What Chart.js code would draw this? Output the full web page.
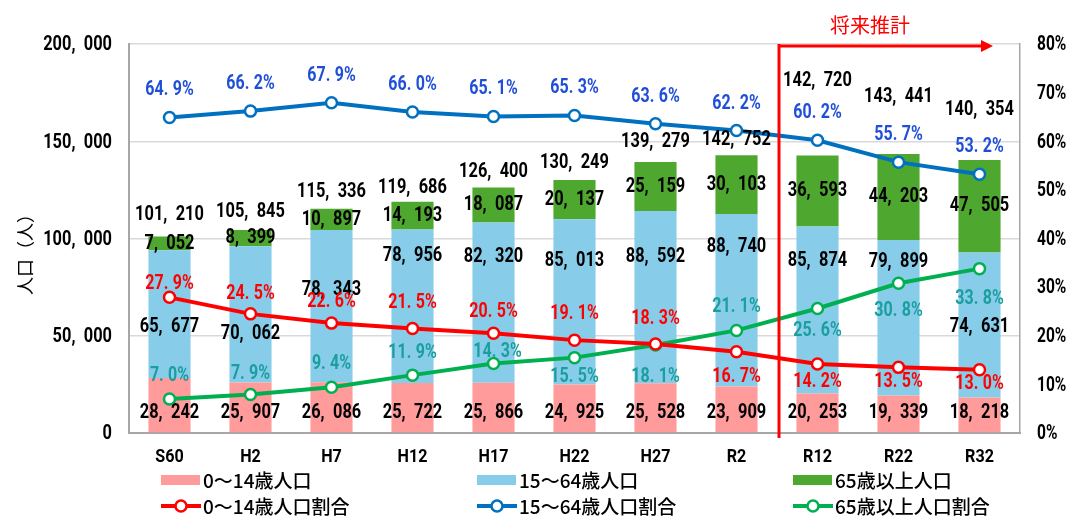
<!DOCTYPE html>
<html>
<head>
<meta charset="utf-8">
<script src="https://cdn.jsdelivr.net/npm/chart.js@4.4.1/dist/chart.umd.min.js"></script>
<style>
  html,body{margin:0;padding:0;background:#fff;}
  #caja{width:1070px;height:519px;}
</style>
</head>
<body>
<div id="caja"><canvas id="grafico"></canvas></div>
<script>
// datos
const anios    = ['S60','H2','H7','H12','H17','H22','H27','R2','R12','R22','R32'];
const pob0014  = [28242,25907,26086,25722,25866,24925,25528,23909,20253,19339,18218];
const pob1564  = [65677,70062,78343,78956,82320,85013,88592,88740,85874,79899,74631];
const pob65    = [7052,8399,10897,14193,18087,20137,25159,30103,36593,44203,47505];
const total    = [101210,105845,115336,119686,126400,130249,139279,142752,142720,143441,140354];
const tasa0014 = [27.9,24.5,22.6,21.5,20.5,19.1,18.3,16.7,14.2,13.5,13.0];
const tasa1564 = [64.9,66.2,67.9,66.0,65.1,65.3,63.6,62.2,60.2,55.7,53.2];
const tasa65   = [7.0,7.9,9.4,11.9,14.3,15.5,18.1,21.1,25.6,30.8,33.8];
const nombres  = ['0～14歳人口','15～64歳人口','65歳以上人口','0～14歳人口割合','15～64歳人口割合','65歳以上人口割合'];
const inicioFuturo = 'R12';
const textoFuturo  = '将来推計';
const tituloY      = '人口（人）';

// desplazamientos de etiquetas (px)
const dyTotal = [-21,-15,-17,-12,-15,-17,-20,-16,-75,-57,-50];
const dyMedio = [76,87,60,26,34,42,46,33,34,22,74];
const dyRojo  = [-13,-20,-21,-25,-21,-26,-25,25,18,15,14];
const dyVerde = [-23,-21,-23,-22,-11,19,32,-23,22,28,30];
const dxVerde = [0,0,0,0,4,0,0,0,0,0,0];

const colRosa='#FF9B9B', colCeleste='#87CDEA', colVerdeB='#4EA72E';
const colRojo='#FF0000', colAzul='#0070C0', colVerde='#00B050';
const fuenteNum = "Roboto,'Noto Sans',sans-serif";
const fuenteJP  = "'Noto Sans CJK JP',sans-serif";

const fmt = n => n.toLocaleString('en-US');

// texto estrecho, con coma y punto anchos como en el original
function textoNum(ctx, s, x, y, size, k, align){
  ctx.font = 'bold '+size+'px '+fuenteNum;
  ctx.textAlign='left';
  ctx.textBaseline='middle';
  const extra = {',':0.4*size, '.':0.22*size};
  const chars = [...s];
  const ws = chars.map(c => ctx.measureText(c).width*k + (extra[c]||0));
  const w = ws.reduce((a,b)=>a+b,0);
  let cx = align==='right' ? x-w : align==='left' ? x : x-w/2;
  chars.forEach((c,i)=>{
    ctx.save(); ctx.translate(cx,y); ctx.scale(k,1); ctx.fillText(c,0,0); ctx.restore();
    cx += ws[i];
  });
}

const etiquetas = {
  id:'etiquetas',
  afterDatasetsDraw(chart){
    const {ctx} = chart;
    const x = chart.scales.x, y = chart.scales.y, y1 = chart.scales.y1;
    ctx.save();
    anios.forEach((a,i)=>{
      const cx = x.getPixelForValue(i);
      const t1 = y.getPixelForValue(pob0014[i]+pob1564[i]);
      const t2 = y.getPixelForValue(pob0014[i]+pob1564[i]+pob65[i]);
      ctx.fillStyle='#000';
      textoNum(ctx, fmt(pob0014[i]), cx, y.getPixelForValue(0)-20, 21, 0.78);
      textoNum(ctx, fmt(pob1564[i]), cx, t1+dyMedio[i], 21, 0.78);
      textoNum(ctx, fmt(pob65[i]), cx, (t1+t2)/2, 21, 0.78);
      textoNum(ctx, fmt(total[i]), cx, y.getPixelForValue(total[i])+dyTotal[i], 21, 0.78);

      ctx.fillStyle='#1F4ED8';
      textoNum(ctx, tasa1564[i].toFixed(1)+'%', cx, y1.getPixelForValue(tasa1564[i])-27, 20, 0.8);
      ctx.fillStyle=colRojo;
      textoNum(ctx, tasa0014[i].toFixed(1)+'%', cx, y1.getPixelForValue(tasa0014[i])+dyRojo[i], 20, 0.8);
      ctx.fillStyle='#1A9E9E';
      textoNum(ctx, tasa65[i].toFixed(1)+'%', cx+dxVerde[i], y1.getPixelForValue(tasa65[i])+dyVerde[i], 20, 0.8);
    });
    ctx.restore();
  },
  afterDraw(chart){
    const {ctx, chartArea} = chart;
    const x = chart.scales.x, y = chart.scales.y, y1 = chart.scales.y1;
    ctx.save();
    // rotulos de los ejes
    ctx.fillStyle='#000';
    y.ticks.forEach(t => textoNum(ctx, fmt(t.value), chartArea.left-17, y.getPixelForValue(t.value)+1, 21, 0.78, 'right'));
    y1.ticks.forEach(t => textoNum(ctx, t.value+'%', chartArea.right+17, y1.getPixelForValue(t.value)+1, 21, 0.74, 'left'));
    anios.forEach((a,i) => textoNum(ctx, a, x.getPixelForValue(i), chartArea.bottom+24, 19, 0.85));

    // linea de proyeccion
    const k = anios.indexOf(inicioFuturo);
    const lx = (x.getPixelForValue(k-1)+x.getPixelForValue(k))/2 + 2;
    ctx.strokeStyle=colRojo; ctx.fillStyle=colRojo; ctx.lineWidth=3;
    ctx.beginPath();
    ctx.moveTo(lx, chartArea.top); ctx.lineTo(lx, chartArea.bottom+5);
    ctx.moveTo(lx, chartArea.top+2); ctx.lineTo(chartArea.right-38, chartArea.top+2);
    ctx.stroke();
    const ax = chartArea.right-27, ay = chartArea.top+2;
    ctx.beginPath();
    ctx.moveTo(ax, ay); ctx.lineTo(ax-12, ay-6); ctx.lineTo(ax-12, ay+6); ctx.closePath();
    ctx.fill();
    ctx.font='20px '+fuenteJP; ctx.textAlign='center'; ctx.textBaseline='middle';
    ctx.fillText(textoFuturo, lx+91, 25);

    // titulo eje Y
    ctx.fillStyle='#000';
    ctx.font='18px '+fuenteJP;
    ctx.translate(25, 250); ctx.rotate(-Math.PI/2);
    ctx.fillText(tituloY, 0, 0);
    ctx.restore();

    // leyenda
    ctx.save();
    const cols=[161,477,793], filas=[480,506];
    ctx.font='500 19px '+fuenteJP; ctx.textBaseline='middle'; ctx.textAlign='left';
    chart.data.datasets.forEach((ds,i)=>{
      const c = cols[i%3], f = filas[Math.floor(i/3)];
      if(ds.type==='line'){
        ctx.strokeStyle=ds.borderColor; ctx.lineWidth=4;
        ctx.beginPath(); ctx.moveTo(c,f); ctx.lineTo(c+40,f); ctx.stroke();
        ctx.beginPath(); ctx.arc(c+20,f,5.5,0,Math.PI*2);
        ctx.fillStyle='#fff'; ctx.fill(); ctx.lineWidth=2.5; ctx.stroke();
      }else{
        ctx.fillStyle=ds.backgroundColor;
        ctx.fillRect(c,f-5,39,10);
      }
      ctx.fillStyle='#000';
      ctx.fillText(ds.label, c+42, f+1);
    });
    ctx.restore();
  }
};

const linea = (label,data,color)=>({
  type:'line', label, data, yAxisID:'y1', order:0,
  borderColor:color, borderWidth:4, backgroundColor:'#fff',
  pointRadius:5.5, pointBorderWidth:2.5, pointBackgroundColor:'#fff', pointBorderColor:color,
  tension:0, fill:false
});
const barra = (label,data,color)=>({
  type:'bar', label, data, yAxisID:'y', order:1,
  backgroundColor:color, categoryPercentage:1, barPercentage:0.52
});

new Chart(document.getElementById('grafico'),{
  data:{
    labels:anios,
    datasets:[
      barra(nombres[0],pob0014,colRosa),
      barra(nombres[1],pob1564,colCeleste),
      barra(nombres[2],pob65,colVerdeB),
      linea(nombres[3],tasa0014,colRojo),
      linea(nombres[4],tasa1564,colAzul),
      linea(nombres[5],tasa65,colVerde)
    ]
  },
  options:{
    responsive:true, maintainAspectRatio:false, animation:false,
    layout:{padding:{top:44,bottom:50,left:0,right:0}},
    plugins:{legend:{display:false},tooltip:{enabled:false}},
    scales:{
      x:{
        stacked:true,
        grid:{display:false},
        border:{display:true,color:'#A6A6A6',width:2},
        ticks:{display:false},
        afterFit(s){ s.height=36; }
      },
      y:{
        stacked:true, min:0, max:200000,
        grid:{color:'#D9D9D9',lineWidth:1.5,drawTicks:false},
        border:{display:true,color:'#A6A6A6',width:2},
        ticks:{stepSize:50000,display:false},
        afterFit(s){ s.width=129; }
      },
      y1:{
        position:'right', min:0, max:80,
        grid:{display:false,drawTicks:false},
        border:{display:true,color:'#A6A6A6',width:1.5},
        ticks:{stepSize:10,display:false},
        afterFit(s){ s.width=50; }
      }
    }
  },
  plugins:[etiquetas]
});
</script>
</body>
</html>
